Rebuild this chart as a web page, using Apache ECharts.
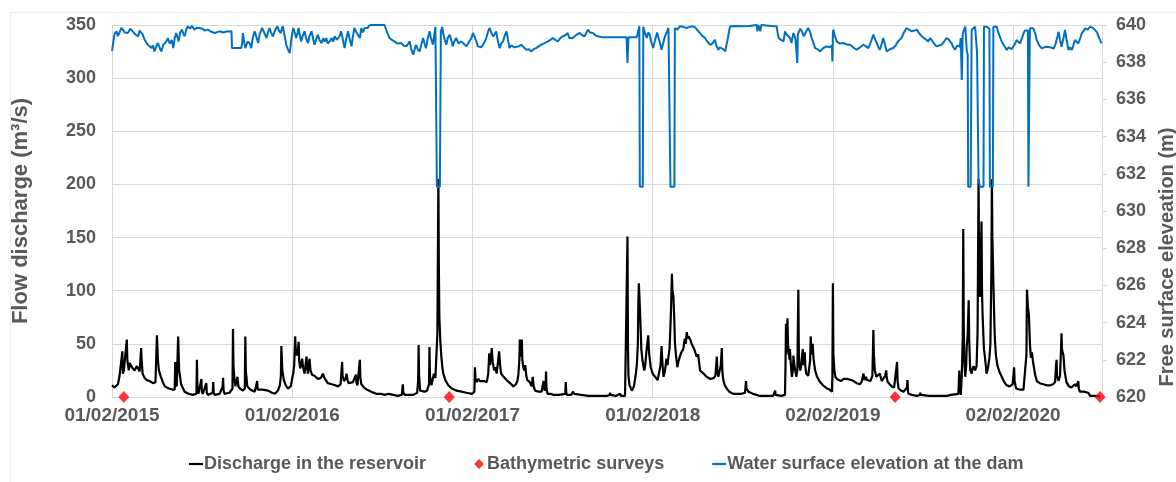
<!DOCTYPE html>
<html><head><meta charset="utf-8">
<script src="https://cdn.jsdelivr.net/npm/echarts@6/dist/echarts.min.js"></script>
<style>html,body{margin:0;padding:0;background:#fff}#c{width:1176px;height:482px}</style>
</head><body><div id="c"></div>
<script>
// x values are days since 01/02/2015
const xTickLabels = ['01/02/2015','01/02/2016','01/02/2017','01/02/2018','02/02/2019','02/02/2020'];
const xTickStepDays = 365;
const xMaxDay = 2005;
const leftTicks = {min:0, max:350, step:50};
const rightTicks = {min:620, max:640, step:2};

const discharge = [[0,11],[5,9],[9,8],[12,12],[15,19],[19,20],[21,43],[22,22],[24,25],[28,24],[30,54],[31,35],[34,25],[36,32],[39,29],[42,27],[46,25],[50,29],[53,27],[56,24],[59,46],[60,35],[62,22],[66,18],[70,16],[76,15],[83,13],[88,14],[91,58],[93,35],[95,25],[99,19],[103,14],[107,10],[115,8],[122,7],[127,7],[128,33],[129,12],[131,10],[134,57],[136,25],[140,12],[147,5],[155,3],[164,2],[171,3],[172,35],[173,8],[175,3],[181,17],[182,5],[184,3],[191,13],[192,4],[194,2],[204,4],[205,14],[206,4],[208,2],[218,3],[224,10],[225,18],[226,6],[228,3],[238,4],[244,8],[245,64],[246,30],[248,16],[250,10],[254,19],[256,10],[259,8],[265,6],[269,8],[270,57],[271,25],[274,10],[280,7],[289,5],[293,6],[294,15],[295,7],[296,6],[305,7],[316,6],[324,4],[330,3],[336,6],[340,11],[342,20],[343,48],[345,25],[348,16],[352,11],[356,8],[362,10],[366,20],[367,22],[369,30],[371,57],[372,45],[374,39],[376,42],[378,52],[379,35],[381,27],[383,30],[385,36],[387,28],[390,22],[392,30],[394,38],[395,28],[397,22],[398,30],[400,36],[402,25],[405,21],[410,20],[417,17],[423,18],[427,22],[430,18],[437,13],[445,12],[452,11],[458,10],[463,12],[466,33],[467,20],[470,15],[473,17],[475,22],[477,16],[479,13],[483,12],[488,14],[491,13],[494,21],[495,14],[497,11],[500,12],[502,35],[503,18],[505,12],[510,9],[516,7],[525,5],[535,3],[545,3],[552,2],[560,3],[570,2],[579,1],[587,2],[589,12],[590,4],[593,2],[600,2],[610,2],[613,3],[618,4],[620,15],[621,49],[622,20],[624,6],[628,5],[633,5],[638,6],[642,12],[643,47],[644,20],[647,11],[650,12],[652,22],[655,18],[657,17],[659,60],[661,205],[662,120],[663,75],[665,52],[667,38],[669,28],[671,22],[676,15],[681,11],[688,8],[698,6],[708,5],[718,4],[729,3],[732,3],[734,5],[735,28],[736,18],[739,14],[742,17],[745,15],[749,16],[754,15],[759,14],[762,22],[764,41],[766,30],[769,46],[771,33],[774,25],[776,28],[779,22],[781,30],[784,43],[786,30],[788,22],[793,19],[799,16],[806,13],[813,10],[818,12],[821,15],[823,21],[825,35],[826,54],[827,38],[829,45],[830,54],[831,35],[833,28],[835,25],[837,30],[839,20],[841,16],[846,14],[850,10],[852,19],[854,10],[857,6],[864,5],[870,5],[872,10],[874,15],[876,6],[878,8],[879,24],[880,8],[882,3],[888,3],[894,2],[905,2],[918,3],[919,14],[920,4],[921,2],[930,2],[934,5],[936,3],[938,2],[950,2],[965,1],[980,1],[1002,1],[1008,2],[1009,4],[1010,2],[1012,1],[1020,1],[1029,3],[1031,1],[1039,1],[1043,2],[1044,151],[1045,45],[1046,20],[1048,11],[1051,8],[1053,6],[1057,10],[1059,16],[1061,22],[1063,31],[1065,50],[1066,90],[1067,107],[1069,85],[1071,60],[1072,45],[1074,36],[1076,30],[1078,25],[1080,30],[1082,41],[1084,40],[1086,58],[1088,40],[1091,28],[1095,22],[1100,19],[1105,16],[1109,16],[1111,30],[1113,48],[1115,30],[1117,19],[1120,25],[1123,36],[1125,30],[1127,38],[1129,45],[1130,54],[1132,80],[1134,116],[1135,100],[1137,95],[1139,70],[1140,52],[1142,40],[1145,28],[1147,33],[1150,38],[1153,42],[1157,45],[1160,55],[1162,50],[1164,61],[1166,55],[1168,57],[1171,54],[1174,50],[1177,47],[1180,44],[1184,38],[1187,40],[1191,25],[1194,24],[1198,22],[1201,21],[1204,19],[1208,18],[1212,17],[1215,17],[1219,18],[1222,20],[1225,38],[1226,25],[1228,19],[1231,20],[1233,30],[1235,46],[1236,25],[1238,16],[1241,11],[1245,8],[1250,5],[1258,3],[1266,3],[1275,3],[1282,4],[1284,15],[1285,8],[1289,5],[1292,6],[1298,3],[1305,2],[1312,1],[1325,1],[1339,1],[1342,2],[1343,6],[1344,2],[1346,1],[1355,1],[1363,2],[1364,30],[1365,69],[1366,40],[1368,74],[1369,50],[1371,42],[1372,35],[1373,45],[1375,30],[1377,19],[1379,25],[1380,39],[1382,30],[1386,19],[1388,25],[1390,101],[1391,45],[1392,30],[1394,25],[1396,30],[1399,45],[1400,30],[1403,42],[1404,30],[1406,22],[1410,20],[1413,19],[1414,35],[1415,57],[1417,40],[1419,50],[1421,35],[1424,25],[1428,19],[1434,14],[1440,11],[1448,8],[1453,7],[1458,5],[1459,20],[1460,107],[1461,40],[1463,25],[1465,19],[1468,17],[1471,16],[1476,15],[1482,17],[1488,17],[1492,16],[1497,16],[1502,15],[1508,13],[1515,12],[1518,14],[1520,18],[1522,22],[1524,16],[1527,19],[1529,16],[1533,15],[1536,15],[1540,20],[1542,63],[1543,40],[1545,25],[1548,19],[1552,18],[1555,22],[1556,20],[1559,15],[1563,18],[1566,20],[1568,25],[1569,18],[1571,14],[1575,12],[1579,10],[1584,9],[1588,10],[1590,33],[1591,15],[1593,8],[1598,6],[1603,5],[1606,6],[1610,9],[1611,16],[1612,6],[1613,3],[1620,2],[1630,1],[1636,2],[1637,4],[1638,2],[1640,1],[1655,1],[1670,1],[1691,1],[1699,2],[1701,3],[1703,1],[1714,3],[1715,12],[1716,25],[1717,10],[1719,2],[1721,20],[1723,57],[1724,158],[1725,70],[1726,35],[1728,19],[1730,30],[1731,47],[1733,60],[1735,91],[1736,55],[1738,26],[1741,22],[1743,27],[1745,29],[1748,25],[1751,29],[1753,60],[1755,205],[1756,130],[1758,94],[1759,120],[1761,165],[1762,100],[1763,80],[1765,55],[1766,45],[1768,37],[1770,28],[1771,22],[1773,25],[1775,30],[1777,37],[1779,50],[1781,120],[1782,205],[1783,150],[1785,108],[1787,70],[1788,55],[1790,40],[1793,30],[1797,24],[1802,19],[1807,14],[1812,11],[1818,10],[1824,12],[1827,28],[1828,15],[1831,8],[1838,7],[1846,7],[1850,8],[1852,40],[1853,101],[1855,85],[1857,77],[1859,50],[1861,37],[1863,42],[1866,31],[1870,20],[1873,15],[1879,13],[1886,12],[1893,11],[1900,11],[1906,12],[1910,14],[1912,30],[1913,35],[1914,20],[1917,15],[1920,20],[1922,45],[1923,60],[1924,45],[1927,39],[1929,25],[1933,14],[1938,10],[1943,9],[1947,8],[1950,12],[1953,10],[1957,15],[1958,8],[1960,5],[1968,5],[1972,6],[1977,4],[1979,3],[1981,1],[1990,1],[2001,0.5]];

const surveys = [[24,0],[683,0],[1586,0],[2001,0]];

const elevation = [[0,638.6],[2,638.67],[5,639.5],[9,639.66],[12,639.4],[15,639.48],[19,639.85],[22,639.75],[26,639.6],[32,639.57],[37,639.8],[42,639.66],[47,639.5],[53,639.39],[56,639.7],[59,639.66],[62,639.5],[66,639.21],[72,638.95],[76,639.05],[80,638.76],[83,638.9],[86,638.58],[89,638.8],[93,639.03],[97,638.75],[100,638.58],[104,638.95],[107,638.85],[110,639.1],[113,639.30],[117,639.0],[121,639.2],[124,638.76],[127,639.3],[130,639.57],[133,639.3],[135,639.12],[138,639.6],[142,639.75],[144,639.55],[147,639.39],[151,639.8],[154,639.93],[158,639.8],[162,639.95],[167,639.75],[172,639.85],[177,639.84],[183,639.8],[188,639.7],[194,639.75],[200,639.65],[204,639.7],[208,639.57],[212,639.5],[218,639.66],[225,639.6],[232,639.65],[242,639.66],[243,638.76],[262,638.76],[264,639.1],[265,639.57],[267,639.2],[270,638.76],[272,638.9],[275,639.12],[279,639.0],[282,638.76],[285,639.3],[289,639.66],[292,639.4],[296,639.03],[299,639.5],[302,639.7],[304,639.84],[308,639.6],[313,639.30],[316,639.6],[319,639.84],[322,639.6],[326,639.39],[330,639.7],[335,639.93],[338,639.7],[342,639.57],[344,639.8],[346,639.93],[349,639.5],[353,638.94],[356,638.7],[360,638.49],[363,639.2],[367,639.84],[370,639.6],[373,639.30],[376,639.6],[378,639.84],[380,639.5],[383,639.12],[386,639.4],[390,639.66],[393,639.3],[397,639.03],[400,639.4],[404,639.66],[407,639.3],[410,638.94],[413,639.2],[417,639.48],[420,639.2],[424,639.03],[428,639.3],[431,639.1],[434,639.30],[437,639.0],[441,639.12],[445,639.3],[448,639.1],[451,639.39],[455,639.2],[458,639.12],[461,639.4],[464,639.66],[467,639.3],[471,638.76],[474,639.2],[478,639.66],[481,639.3],[485,638.85],[488,639.4],[491,639.84],[495,639.6],[498,639.66],[502,639.30],[505,639.84],[508,639.6],[512,639.84],[518,639.84],[520,639.95],[525,640.0],[552,640.0],[556,639.7],[562,639.30],[567,639.2],[572,639.12],[578,639.0],[582,639.1],[586,639.03],[590,638.9],[593,639.0],[596,638.85],[600,639.0],[603,639.12],[606,638.7],[610,638.40],[613,638.7],[616,638.94],[619,638.7],[623,638.58],[626,638.9],[630,639.30],[633,639.0],[636,638.76],[639,639.2],[643,639.66],[646,639.3],[650,638.94],[653,639.5],[655,639.9],[657,639.93],[658,631.3],[664,631.3],[666,639.66],[669,639.9],[671,639.5],[674,639.2],[677,638.94],[680,639.3],[684,639.48],[687,639.2],[690,638.85],[693,639.1],[697,639.30],[702,639.0],[707,639.12],[712,639.0],[718,638.85],[721,639.0],[724,638.94],[728,639.3],[731,639.57],[734,639.48],[737,639.2],[741,638.85],[745,638.95],[748,638.8],[751,638.94],[755,639.1],[758,639.30],[761,639.6],[765,639.84],[768,639.6],[772,639.39],[775,639.5],[778,639.66],[781,639.2],[785,638.76],[788,639.0],[792,639.12],[795,639.4],[799,639.66],[802,639.2],[805,638.76],[808,638.9],[812,638.94],[815,638.8],[819,638.76],[824,638.85],[829,638.94],[834,638.8],[839,638.67],[844,638.7],[849,638.58],[854,638.7],[859,638.76],[864,638.85],[869,638.94],[874,639.0],[878,639.1],[883,639.12],[888,639.2],[893,639.30],[898,639.2],[903,639.12],[908,639.3],[913,639.39],[918,639.45],[923,639.57],[926,639.3],[930,639.21],[933,639.3],[937,639.39],[942,639.5],[947,639.57],[952,639.45],[957,639.39],[961,639.6],[964,639.75],[968,639.6],[974,639.57],[979,639.45],[984,639.39],[988,639.36],[992,639.34],[1042,639.34],[1044,637.96],[1046,639.34],[1063,639.34],[1066,639.7],[1068,639.93],[1069,631.3],[1075,631.3],[1076,639.9],[1079,639.6],[1083,639.30],[1086,639.6],[1089,639.48],[1092,639.1],[1096,638.76],[1100,639.2],[1104,639.6],[1107,639.57],[1110,639.0],[1113,638.67],[1117,639.1],[1120,639.4],[1123,639.57],[1127,639.84],[1130,639.84],[1131,631.3],[1139,631.3],[1140,639.84],[1145,639.75],[1150,639.93],[1157,639.9],[1164,639.84],[1170,639.9],[1177,639.93],[1182,639.85],[1186,639.7],[1191,639.57],[1196,639.4],[1201,639.30],[1206,639.1],[1211,638.94],[1216,639.0],[1221,639.21],[1224,638.9],[1228,638.67],[1231,638.8],[1235,638.85],[1238,638.7],[1242,638.58],[1245,639.0],[1248,639.39],[1250,639.7],[1252,639.93],[1260,639.95],[1272,639.93],[1290,639.95],[1306,640.0],[1307,639.66],[1309,640.0],[1311,640.0],[1313,639.66],[1315,640.0],[1319,640.0],[1335,639.95],[1346,639.93],[1348,639.6],[1350,639.30],[1355,639.2],[1360,639.12],[1363,639.66],[1366,639.5],[1370,639.57],[1373,639.3],[1376,639.03],[1380,639.57],[1384,639.3],[1387,639.4],[1388,637.96],[1389,639.5],[1390,639.48],[1394,639.8],[1397,639.66],[1401,639.4],[1404,639.48],[1407,639.7],[1410,639.84],[1414,639.6],[1417,639.30],[1421,639.0],[1424,638.76],[1429,638.7],[1434,638.58],[1440,638.75],[1447,638.85],[1453,638.8],[1458,638.9],[1459,638.04],[1460,639.6],[1461,639.75],[1464,639.4],[1468,639.12],[1474,639.0],[1481,639.03],[1488,638.95],[1495,638.94],[1501,638.8],[1508,638.67],[1515,638.8],[1522,638.94],[1527,638.85],[1532,638.76],[1537,639.1],[1542,639.48],[1546,639.2],[1549,639.03],[1552,638.8],[1555,638.67],[1559,639.0],[1562,639.30],[1566,638.9],[1569,638.58],[1575,638.7],[1582,638.76],[1587,638.9],[1592,639.12],[1596,639.2],[1599,639.30],[1604,639.6],[1609,639.84],[1614,639.75],[1620,639.66],[1625,639.7],[1630,639.75],[1635,639.55],[1640,639.39],[1647,639.25],[1653,639.12],[1657,639.3],[1660,639.21],[1665,639.0],[1670,638.85],[1675,638.9],[1680,638.94],[1685,639.1],[1690,639.30],[1695,639.2],[1700,639.03],[1704,638.8],[1707,638.67],[1712,638.9],[1717,638.83],[1719,639.3],[1721,637.04],[1723,639.55],[1728,639.91],[1731,638.66],[1733,638.4],[1734,631.3],[1739,631.3],[1741,639.73],[1748,639.91],[1751,639.91],[1752,638.5],[1755,631.67],[1758,631.3],[1765,631.3],[1766,639.91],[1772,639.91],[1777,639.8],[1778,631.3],[1784,631.3],[1785,639.91],[1792,639.91],[1795,639.6],[1798,639.37],[1802,639.1],[1805,639.01],[1809,638.8],[1812,638.66],[1816,638.8],[1819,638.83],[1822,638.7],[1825,638.66],[1829,639.0],[1832,639.19],[1836,639.1],[1839,639.01],[1843,639.3],[1846,639.55],[1849,639.7],[1852,639.73],[1855,639.7],[1856,631.3],[1857,631.3],[1859,639.82],[1863,639.85],[1866,639.82],[1870,639.5],[1873,639.19],[1878,638.9],[1883,638.74],[1888,638.8],[1893,638.83],[1900,638.8],[1907,638.74],[1910,638.9],[1913,639.19],[1915,639.4],[1917,639.64],[1920,639.2],[1923,638.83],[1927,639.3],[1930,639.73],[1934,639.1],[1937,638.66],[1940,638.8],[1944,638.66],[1947,638.9],[1950,639.19],[1953,639.1],[1957,639.01],[1961,639.3],[1964,639.55],[1968,639.7],[1971,639.82],[1976,639.75],[1981,639.91],[1986,639.85],[1991,639.73],[1995,639.6],[1998,639.37],[2001,639.2],[2004,639.01]];

const seriesNames = ['Discharge in the reservoir','Bathymetric surveys','Water surface elevation at the dam'];
const axisTitles = ['Flow discharge (m³/s)','Free surface eleveation (m)'];

const FONT = '"Liberation Sans", Arial, sans-serif';
const GRAY = '#595959';
const chart = echarts.init(document.getElementById('c'), null, {renderer:'canvas'});
chart.setOption({
  animation:false,
  backgroundColor:'#fff',
  graphic:[
    {type:'rect',shape:{x:10.5,y:12.5,width:1200,height:500},style:{fill:'none',stroke:'#eeeeee',lineWidth:1},silent:true,z:-10},
    {type:'text',x:1167,y:257,rotation:Math.PI/2,silent:true,
     style:{text:axisTitles[1],fontFamily:FONT,fontSize:20,fontWeight:'bold',fill:GRAY,align:'center',verticalAlign:'middle'}}
  ],
  grid:{left:112,right:74,top:25,bottom:85,containLabel:false},
  legend:{
    bottom:4,left:184,itemGap:48,itemWidth:14,itemHeight:10,
    textStyle:{fontFamily:FONT,fontSize:18,fontWeight:'bold',color:GRAY,padding:[0,0,0,-4]},
    data:[
      {name:seriesNames[0],icon:'path://M0,0H14V2.2H0Z'},
      {name:seriesNames[1],icon:'path://M5,0L10,5L5,10L0,5Z'},
      {name:seriesNames[2],icon:'path://M0,0H14V2.2H0Z'}
    ]
  },
  xAxis:{
    type:'value',min:0,max:xMaxDay,interval:xTickStepDays,
    axisLine:{show:false},axisTick:{show:false},
    splitLine:{show:true,lineStyle:{color:'#d9d9d9',width:1}},
    axisLabel:{margin:9,fontFamily:FONT,fontSize:19,fontWeight:'bold',color:GRAY,
      formatter:function(v){const i=Math.round(v/xTickStepDays);return Math.abs(v-i*xTickStepDays)<0.5&&xTickLabels[i]?xTickLabels[i]:'';}}
  },
  yAxis:[
    {type:'value',min:leftTicks.min,max:leftTicks.max,interval:leftTicks.step,
     name:axisTitles[0],nameLocation:'middle',nameGap:80,nameRotate:90,
     nameTextStyle:{fontFamily:FONT,fontSize:22,fontWeight:'bold',color:GRAY},
     axisLine:{show:false},axisTick:{show:false},
     splitLine:{show:true,lineStyle:{color:'#d9d9d9',width:1}},
     axisLabel:{margin:16,fontFamily:FONT,fontSize:18,fontWeight:'bold',color:GRAY}},
    {type:'value',min:rightTicks.min,max:rightTicks.max,interval:rightTicks.step,position:'right',
     axisLine:{show:true,lineStyle:{color:'#d9d9d9'}},
     axisTick:{show:true,length:5,lineStyle:{color:'#d9d9d9'}},
     splitLine:{show:false},
     axisLabel:{margin:14,fontFamily:FONT,fontSize:18,fontWeight:'bold',color:GRAY}}
  ],
  series:[
    {name:seriesNames[0],type:'line',yAxisIndex:0,data:discharge,showSymbol:false,symbol:'none',
     lineStyle:{color:'#000',width:2.2},itemStyle:{color:'#000'},z:2},
    {name:seriesNames[1],type:'scatter',yAxisIndex:0,data:surveys,symbol:'diamond',symbolSize:[11,12],
     itemStyle:{color:'#ff0000'},z:5,clip:false},
    {name:seriesNames[2],type:'line',yAxisIndex:1,data:elevation,showSymbol:false,symbol:'none',
     lineStyle:{color:'#0070c0',width:2},itemStyle:{color:'#0070c0'},z:3}
  ]
});
</script></body></html>
